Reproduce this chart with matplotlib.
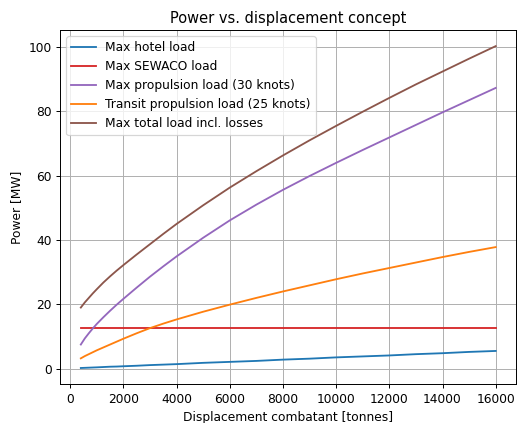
import numpy as np
import matplotlib
matplotlib.use("Agg")
import matplotlib.pyplot as plt

# values
displacement = [400, 550, 700, 850, 1000, 1250, 1500, 1750, 2000, 2500, 3000, 3500, 4000,
                5000, 6000, 7000, 8000, 9000, 10000, 11000, 12000, 13000, 14000, 15000, 16000]
hotel_load = [0.2, 0.25, 0.3, 0.35, 0.4, 0.5, 0.6, 0.65, 0.74, 0.9, 1.1, 1.25, 1.4,
              1.8, 2.1, 2.4, 2.8, 3.1, 3.5, 3.8, 4.1, 4.5, 4.8, 5.2, 5.5]
sewaco_load = [12.5] * len(displacement)
max_prop_load = [7.5, 9.4, 11.0, 12.5, 13.9, 16.0, 18.0, 19.9, 21.7, 25.2, 28.6, 31.8, 34.9,
                 40.7, 46.1, 51.0, 55.6, 59.9, 64.0, 68.0, 71.9, 75.8, 79.7, 83.5, 87.3]
transit_prop_load = [3.2, 3.9, 4.5, 5.1, 5.7, 6.6, 7.5, 8.4, 9.3, 11.0, 12.6, 14.0, 15.3,
                     17.7, 19.9, 22.0, 24.0, 25.9, 27.8, 29.6, 31.3, 33.0, 34.7, 36.3, 37.8]
total_load = [19.0, 20.6, 22.0, 23.4, 24.7, 26.8, 28.7, 30.5, 32.2, 35.5, 38.7, 41.9, 45.0,
              50.8, 56.3, 61.4, 66.3, 71.0, 75.5, 79.9, 84.2, 88.4, 92.4, 96.4, 100.3]

dpi = 88
fig, ax = plt.subplots(figsize=(518 / dpi, 423 / dpi), dpi=dpi)
fig.subplots_adjust(left=0.116, right=0.997, top=0.929, bottom=0.092)

ax.plot(displacement, hotel_load, color='tab:blue', label='Max hotel load')
ax.plot(displacement, sewaco_load, color='tab:red', label='Max SEWACO load')
ax.plot(displacement, max_prop_load, color='tab:purple', label='Max propulsion load (30 knots)')
ax.plot(displacement, transit_prop_load, color='tab:orange', label='Transit propulsion load (25 knots)')
ax.plot(displacement, total_load, color='tab:brown', label='Max total load incl. losses')

ax.set_title('Power vs. displacement concept')
ax.set_xlabel('Displacement combatant [tonnes]')
ax.set_ylabel('Power [MW]')
ax.grid(True)
ax.legend(loc='upper left')

fig.savefig('out.png', dpi=dpi)
